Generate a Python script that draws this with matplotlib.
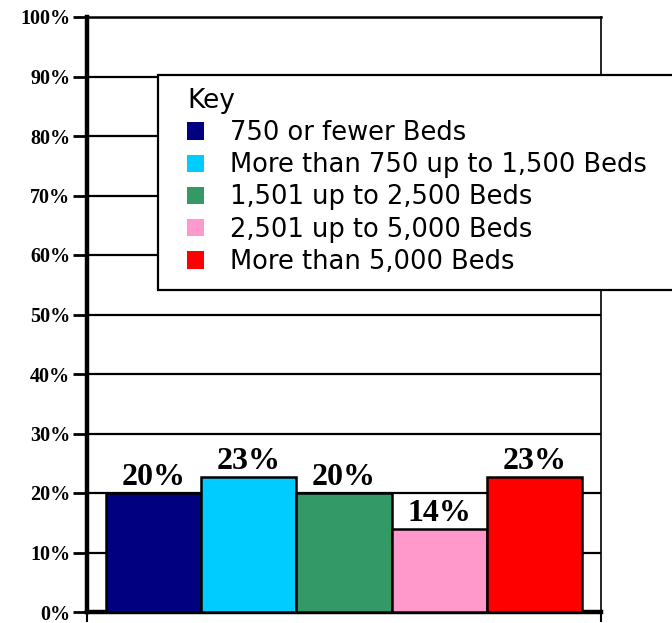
import matplotlib
matplotlib.use("Agg")
import matplotlib.pyplot as plt
from matplotlib.patches import Patch, Rectangle

categories = ["750 or fewer Beds", "More than 750 up to 1,500 Beds",
              "1,501 up to 2,500 Beds", "2,501 up to 5,000 Beds",
              "More than 5,000 Beds"]
values = [20.0, 22.7, 20.0, 13.9, 22.7]
labels = ["20%", "23%", "20%", "14%", "23%"]
colors = ["#000080", "#00CCFF", "#339966", "#FF99CC", "#FF0000"]
yticks = [0, 10, 20, 30, 40, 50, 60, 70, 80, 90, 100]
ytick_labels = ["0%", "10%", "20%", "30%", "40%", "50%", "60%", "70%", "80%", "90%", "100%"]

W, H = 672, 623
fig = plt.figure(figsize=(W / 100, H / 100), dpi=100)
ax = fig.add_axes([87 / W, 1 - 612 / H, (601 - 87) / W, (612 - 17) / H])

xs = list(range(len(values)))
ax.bar(xs, values, width=1.0, color=colors, edgecolor="black", linewidth=1.8, zorder=3)

serif = ["Liberation Serif", "DejaVu Serif"]
for x, v, lab in zip(xs, values, labels):
    ax.text(x, v + 0.2, lab, ha="center", va="bottom", fontsize=23,
            fontweight="bold", family=serif, zorder=4)

ax.set_xlim(-0.7, 4.7)
ax.set_ylim(0, 100)
ax.set_yticks(yticks)
ax.set_yticklabels(ytick_labels, fontsize=14.5, fontweight="bold", family=serif)
ax.set_xticks([-0.7, 4.7])
ax.set_xticklabels(["", ""])
ax.tick_params(axis="y", direction="out", length=10, width=2, pad=2)
ax.tick_params(axis="x", direction="out", length=7, width=1.5)

ax.yaxis.grid(True, color="black", linewidth=1.6, zorder=0)
ax.set_axisbelow(True)
ax.spines["left"].set_linewidth(3.2)
ax.spines["bottom"].set_linewidth(3.2)
ax.spines["right"].set_linewidth(1.2)
ax.spines["top"].set_linewidth(1.8)

# legend box
fig.patches.append(Rectangle((158 / W, 1 - 290 / H), (720 - 158) / W, (290 - 75) / H,
                             transform=fig.transFigure, facecolor="white",
                             edgecolor="black", linewidth=1.6, zorder=5))
handles = [Patch(facecolor=c, edgecolor="none") for c in colors]
leg = fig.legend(handles, categories, loc="upper left",
                 bbox_to_anchor=(187 / W, 1 - 88 / H), frameon=False,
                 prop={"family": "DejaVu Sans", "size": 18.5},
                 title="Key", title_fontproperties={"family": "DejaVu Sans", "size": 19},
                 alignment="left", handlelength=0.68, handleheight=0.68,
                 handletextpad=1.0, labelspacing=0.24, borderpad=0.0,
                 borderaxespad=0)
leg.set_zorder(6)

fig.savefig("out.png", dpi=100)
